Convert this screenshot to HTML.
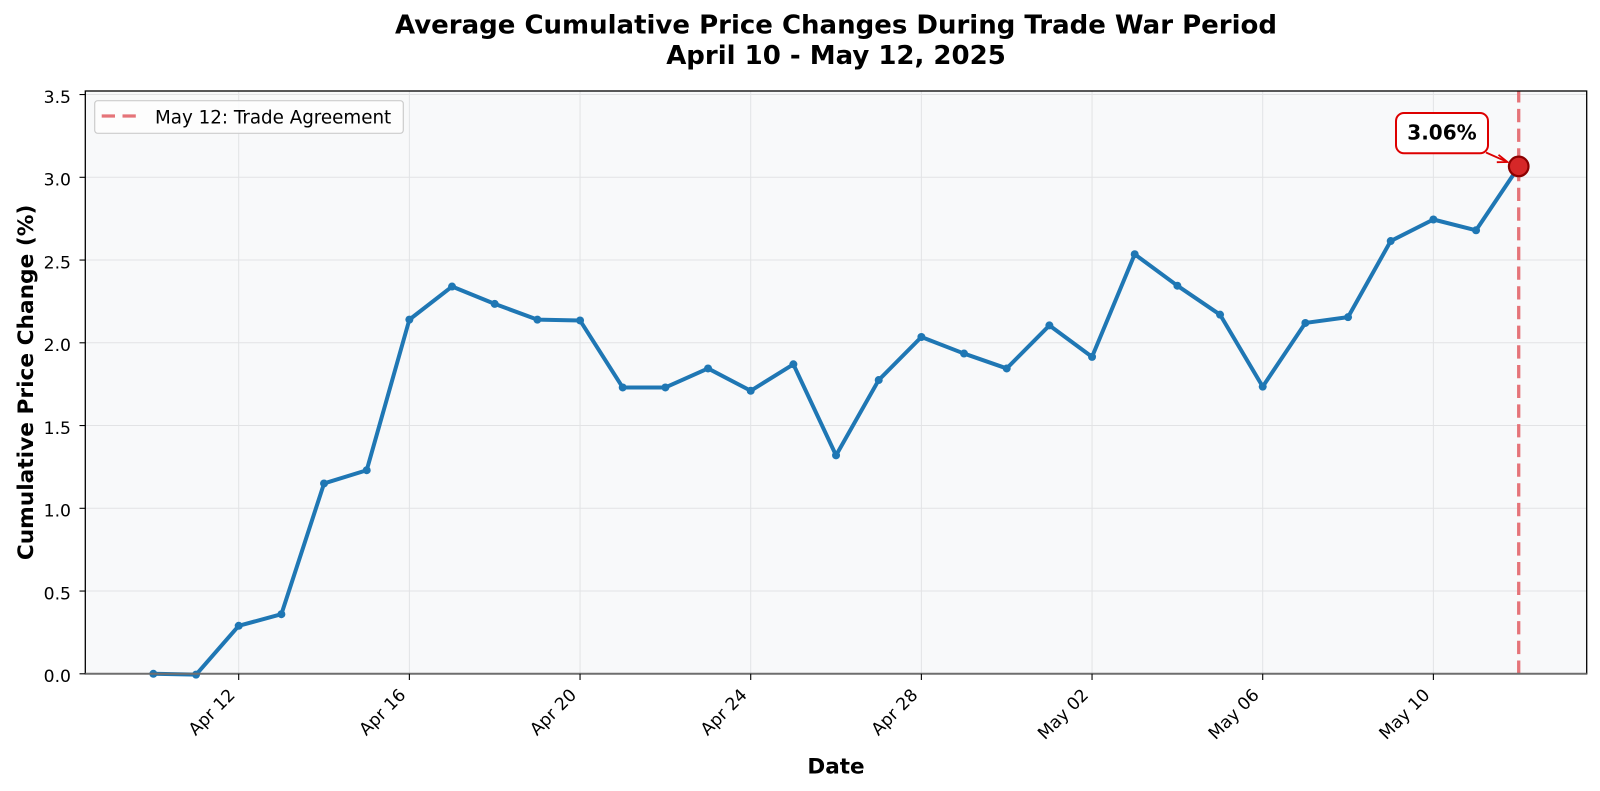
<!DOCTYPE html>
<html>
<head>
<meta charset="utf-8">
<style>
html,body{margin:0;padding:0;background:#fff;}
svg{display:block;}
text{font-family:"DejaVu Sans","Liberation Sans",sans-serif;fill:#000;}
</style>
</head>
<body>
<svg width="1600" height="791" viewBox="0 0 1600 791" xmlns="http://www.w3.org/2000/svg">
<rect x="0" y="0" width="1600" height="791" fill="#ffffff"/>
<!-- axes background -->
<rect x="85.3" y="91" width="1501.4" height="582.8" fill="#f8f9fa"/>
<!-- grid -->
<g stroke="#e2e3e5" stroke-width="1">
<line x1="238.70" y1="91" x2="238.70" y2="673.8"/>
<line x1="409.37" y1="91" x2="409.37" y2="673.8"/>
<line x1="580.04" y1="91" x2="580.04" y2="673.8"/>
<line x1="750.71" y1="91" x2="750.71" y2="673.8"/>
<line x1="921.38" y1="91" x2="921.38" y2="673.8"/>
<line x1="1092.04" y1="91" x2="1092.04" y2="673.8"/>
<line x1="1262.71" y1="91" x2="1262.71" y2="673.8"/>
<line x1="1433.38" y1="91" x2="1433.38" y2="673.8"/>
<line x1="85.3" y1="591.05" x2="1586.7" y2="591.05"/>
<line x1="85.3" y1="508.3" x2="1586.7" y2="508.3"/>
<line x1="85.3" y1="425.55" x2="1586.7" y2="425.55"/>
<line x1="85.3" y1="342.8" x2="1586.7" y2="342.8"/>
<line x1="85.3" y1="260.05" x2="1586.7" y2="260.05"/>
<line x1="85.3" y1="177.3" x2="1586.7" y2="177.3"/>
<line x1="85.3" y1="94.55" x2="1586.7" y2="94.55"/>
</g>
<!-- dashed vertical line -->
<line x1="1518.71" y1="673.8" x2="1518.71" y2="91" stroke="#e57479" stroke-width="3.3" stroke-dasharray="13.3 6.4"/>
<!-- data line -->
<polyline fill="none" stroke="#1f77b4" stroke-width="4" stroke-linejoin="round" stroke-linecap="round" points="153.37,673.8 196.04,674.63 238.70,625.81 281.37,614.22 324.04,483.47 366.71,470.23 409.37,319.63 452.04,286.53 494.71,303.91 537.37,319.63 580.04,320.46 622.71,387.48 665.37,387.48 708.04,368.45 750.71,390.79 793.38,364.31 836.04,455.34 878.71,380.04 921.38,337.01 964.04,353.56 1006.71,368.45 1049.38,325.42 1092.04,356.87 1134.71,254.26 1177.38,285.70 1220.05,314.66 1262.71,386.66 1305.38,322.94 1348.05,317.15 1390.71,241.02 1433.38,219.50 1476.05,230.26 1518.71,166.71"/>
<g fill="#1f77b4">
<circle cx="153.37" cy="673.8" r="4"/><circle cx="196.04" cy="674.63" r="4"/><circle cx="238.70" cy="625.81" r="4"/><circle cx="281.37" cy="614.22" r="4"/><circle cx="324.04" cy="483.47" r="4"/><circle cx="366.71" cy="470.23" r="4"/><circle cx="409.37" cy="319.63" r="4"/><circle cx="452.04" cy="286.53" r="4"/><circle cx="494.71" cy="303.91" r="4"/><circle cx="537.37" cy="319.63" r="4"/><circle cx="580.04" cy="320.46" r="4"/><circle cx="622.71" cy="387.48" r="4"/><circle cx="665.37" cy="387.48" r="4"/><circle cx="708.04" cy="368.45" r="4"/><circle cx="750.71" cy="390.79" r="4"/><circle cx="793.38" cy="364.31" r="4"/><circle cx="836.04" cy="455.34" r="4"/><circle cx="878.71" cy="380.04" r="4"/><circle cx="921.38" cy="337.01" r="4"/><circle cx="964.04" cy="353.56" r="4"/><circle cx="1006.71" cy="368.45" r="4"/><circle cx="1049.38" cy="325.42" r="4"/><circle cx="1092.04" cy="356.87" r="4"/><circle cx="1134.71" cy="254.26" r="4"/><circle cx="1177.38" cy="285.70" r="4"/><circle cx="1220.05" cy="314.66" r="4"/><circle cx="1262.71" cy="386.66" r="4"/><circle cx="1305.38" cy="322.94" r="4"/><circle cx="1348.05" cy="317.15" r="4"/><circle cx="1390.71" cy="241.02" r="4"/><circle cx="1433.38" cy="219.50" r="4"/><circle cx="1476.05" cy="230.26" r="4"/>
</g>
<!-- spines -->
<rect x="85.3" y="91" width="1501.4" height="582.8" fill="none" stroke="#000" stroke-width="1.3"/>
<line x1="85.3" y1="673.8" x2="1586.7" y2="673.8" stroke="#6e6e6e" stroke-width="2"/>
<!-- highlight marker -->
<circle cx="1518.71" cy="166.4" r="9.8" fill="#d62728" stroke="#8b0000" stroke-width="2.2"/>
<!-- annotation arrow -->
<line x1="1486" y1="152.5" x2="1507" y2="161.8" stroke="#dd0000" stroke-width="1.8"/>
<polyline points="1498.5,154.8 1507.5,162 1496.8,162.2" fill="none" stroke="#dd0000" stroke-width="1.8"/>
<!-- annotation box -->
<rect x="1396" y="113" width="92" height="40.3" rx="8" ry="8" fill="#ffffff" stroke="#dd0000" stroke-width="2"/>
<text x="1442" y="139.5" font-size="20" font-weight="bold" text-anchor="middle">3.06%</text>
<!-- y ticks -->
<g stroke="#000" stroke-width="1.1">
<line x1="79.5" y1="673.8" x2="85.3" y2="673.8"/>
<line x1="79.5" y1="591.05" x2="85.3" y2="591.05"/>
<line x1="79.5" y1="508.3" x2="85.3" y2="508.3"/>
<line x1="79.5" y1="425.55" x2="85.3" y2="425.55"/>
<line x1="79.5" y1="342.8" x2="85.3" y2="342.8"/>
<line x1="79.5" y1="260.05" x2="85.3" y2="260.05"/>
<line x1="79.5" y1="177.3" x2="85.3" y2="177.3"/>
<line x1="79.5" y1="94.55" x2="85.3" y2="94.55"/>
</g>
<g font-size="17.2" text-anchor="end">
<text x="71" y="682">0.0</text>
<text x="71" y="599.25">0.5</text>
<text x="71" y="516.5">1.0</text>
<text x="71" y="433.75">1.5</text>
<text x="71" y="351">2.0</text>
<text x="71" y="268.25">2.5</text>
<text x="71" y="185.5">3.0</text>
<text x="71" y="102.75">3.5</text>
</g>
<!-- x ticks -->
<g stroke="#000" stroke-width="1.1">
<line x1="238.70" y1="673.8" x2="238.70" y2="680"/>
<line x1="409.37" y1="673.8" x2="409.37" y2="680"/>
<line x1="580.04" y1="673.8" x2="580.04" y2="680"/>
<line x1="750.71" y1="673.8" x2="750.71" y2="680"/>
<line x1="921.38" y1="673.8" x2="921.38" y2="680"/>
<line x1="1092.04" y1="673.8" x2="1092.04" y2="680"/>
<line x1="1262.71" y1="673.8" x2="1262.71" y2="680"/>
<line x1="1433.38" y1="673.8" x2="1433.38" y2="680"/>
</g>
<g font-size="17.2" text-anchor="end">
<text transform="translate(236,696) rotate(-45)">Apr 12</text>
<text transform="translate(406.67,696) rotate(-45)">Apr 16</text>
<text transform="translate(577.34,696) rotate(-45)">Apr 20</text>
<text transform="translate(748.01,696) rotate(-45)">Apr 24</text>
<text transform="translate(918.68,696) rotate(-45)">Apr 28</text>
<text transform="translate(1089.34,696) rotate(-45)">May 02</text>
<text transform="translate(1260.01,696) rotate(-45)">May 06</text>
<text transform="translate(1430.68,696) rotate(-45)">May 10</text>
</g>
<!-- axis labels -->
<text x="836" y="773.3" font-size="21.5" font-weight="bold" text-anchor="middle">Date</text>
<text transform="translate(33,382.4) rotate(-90)" font-size="21.7" font-weight="bold" text-anchor="middle">Cumulative Price Change (%)</text>
<!-- title -->
<text x="836" y="33.3" font-size="26" font-weight="bold" text-anchor="middle">Average Cumulative Price Changes During Trade War Period</text>
<text x="836" y="64" font-size="26" font-weight="bold" text-anchor="middle">April 10 - May 12, 2025</text>
<!-- legend -->
<rect x="94.7" y="100.7" width="308.6" height="32.6" rx="3" ry="3" fill="#fdfdfd" fill-opacity="0.9" stroke="#cccccc" stroke-width="1.2"/>
<line x1="101.7" y1="116" x2="136" y2="116" stroke="#e57479" stroke-width="3.3" stroke-dasharray="13.3 7.5"/>
<text x="155" y="123.3" font-size="18.3">May 12: Trade Agreement</text>
</svg>
</body>
</html>
